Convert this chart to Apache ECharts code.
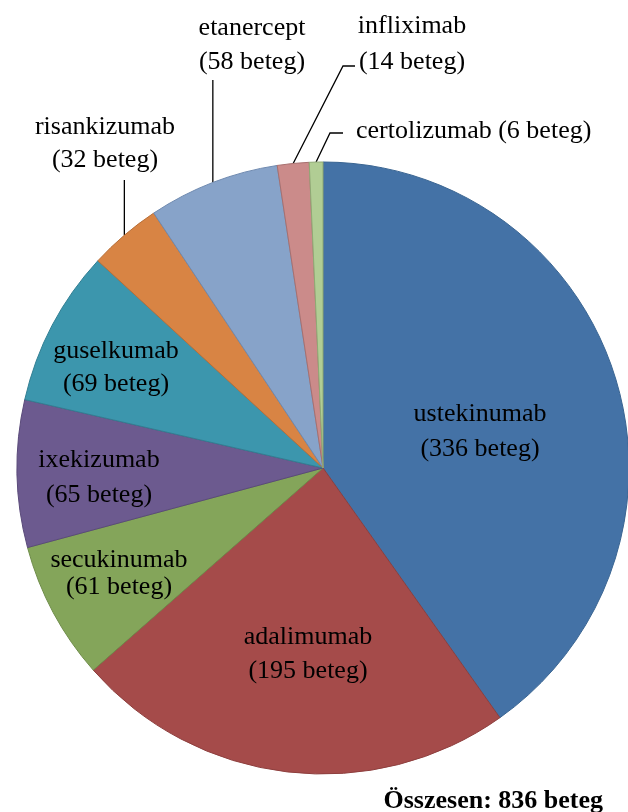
<!DOCTYPE html>
<html><head><meta charset="utf-8">
<script src="https://cdn.jsdelivr.net/npm/echarts@6/dist/echarts.min.js"></script>
<style>html,body{margin:0;padding:0;background:#fff}#c{width:628px;height:812px}</style>
</head><body><div id="c"></div>
<script>
// ---- data ----
const categories = ['ustekinumab','adalimumab','secukinumab','ixekizumab','guselkumab','risankizumab','etanercept','infliximab','certolizumab'];
const patients = [336, 195, 61, 65, 69, 32, 58, 14, 6];
const unit = 'beteg';
const totalLabel = 'Összesen: 836 beteg';

// ---- style ----
const colors  = ['#4472A6','#A54B4A','#84A55A','#6C5A8F','#3C96AD','#D88444','#87A3C9','#CB8B8A','#B1CD94'];
const borders = ['#3A6592','#8E3F3E','#6E8C49','#5A4A7A','#327F93','#B86F38','#6F8AB0','#A8706F','#8FAA74'];
// label placement: x, y (middle), align, lineHeight, inside?
const labelPos = [
  [480, 432, 'center', 35, true],
  [308, 654, 'center', 34, true],
  [119, 574, 'center', 27, true],
  [99, 478, 'center', 35, true],
  [116, 368, 'center', 33, true],
  [105, 144, 'center', 33, false],
  [252, 45, 'center', 34, false],
  [412, 44, 'center', 36, false],
  [356, 131, 'left', 34, false]
];
// leader line elbows (null x = keep the x of the slice edge point)
const leaderPts = {
  5: [[null, 180], [null, 180]],
  6: [[null, 80], [null, 80]],
  7: [[343, 66], [355, 66]],
  8: [[330, 133], [343, 133]]
};

const font = '"Liberation Serif", "Times New Roman", serif';

const data = categories.map((name, i) => ({
  name: name,
  value: patients[i],
  itemStyle: { color: colors[i], borderColor: borders[i], borderWidth: 1 },
  label: {
    show: true,
    position: labelPos[i][4] ? 'inside' : 'outside',
    fontFamily: font,
    fontSize: 26,
    color: '#000',
    lineHeight: labelPos[i][3],
    formatter: i === 8 ? '{b} ({c} ' + unit + ')' : '{b}\n({c} ' + unit + ')'
  },
  labelLine: { show: !labelPos[i][4] }
}));

const chart = echarts.init(document.getElementById('c'), null, { renderer: 'canvas' });
chart.setOption({
  animation: false,
  backgroundColor: '#fff',
  textStyle: { fontFamily: font },
  title: {
    text: totalLabel,
    right: 20,
    top: 783,
    textStyle: { fontFamily: font, fontSize: 26, fontWeight: 'bold', color: '#000' }
  },
  series: [{
    type: 'pie',
    center: [323, 468],
    radius: 306,
    startAngle: 90,
    clockwise: true,
    avoidLabelOverlap: false,
    silent: true,
    data: data,
    label: { fontFamily: font, fontSize: 26, color: '#000' },
    labelLine: { lineStyle: { color: '#000', width: 1.3 }, length: 20, length2: 10 },
    labelLayout: function (params) {
      const i = params.dataIndex;
      const p = labelPos[i];
      const out = { x: p[0], y: p[1], align: p[2], verticalAlign: 'middle' };
      if (leaderPts[i] && params.labelLinePoints) {
        const p0 = params.labelLinePoints[0];
        const pts = [[p0[0], p0[1]]];
        leaderPts[i].forEach(q => pts.push([q[0] === null ? p0[0] : q[0], q[1]]));
        out.labelLinePoints = pts;
      }
      return out;
    }
  }]
});
</script></body></html>
